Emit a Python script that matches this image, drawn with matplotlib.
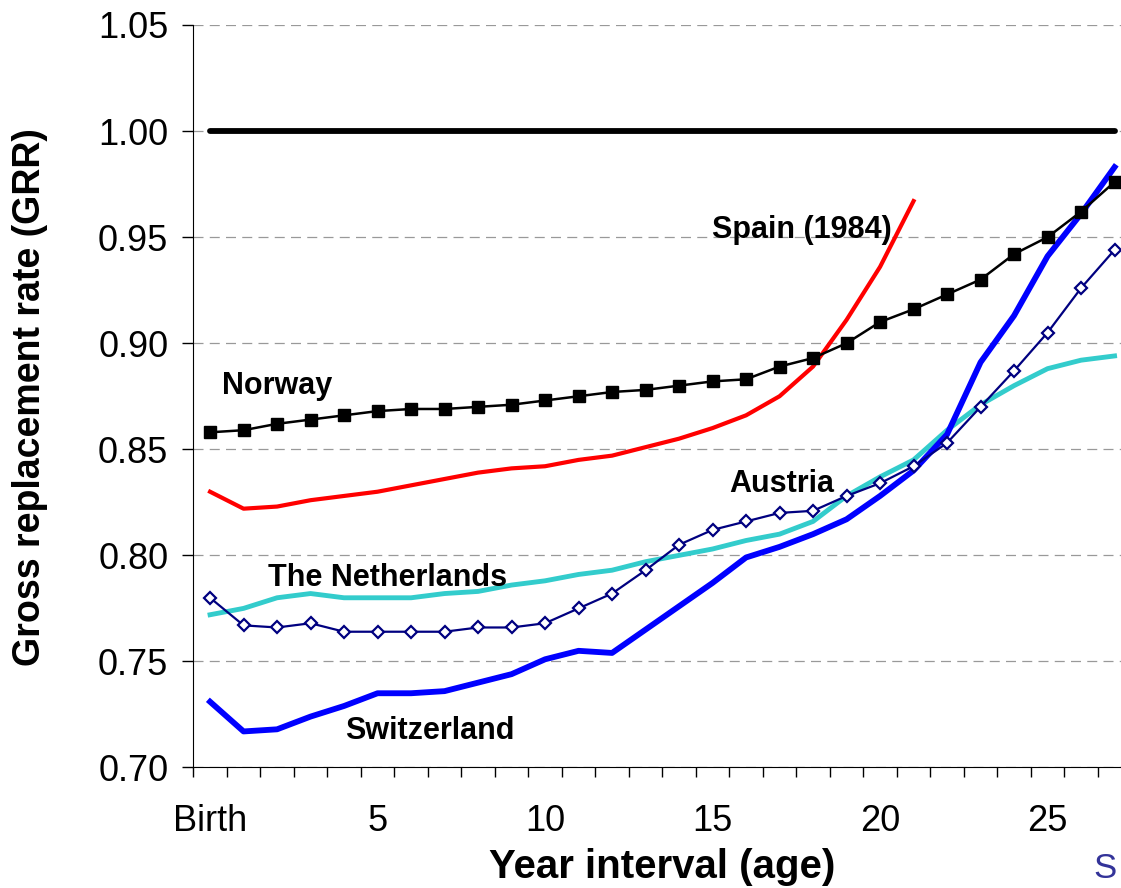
import matplotlib

matplotlib.use("Agg")
import matplotlib.pyplot as plt
from matplotlib.ticker import FixedLocator, NullFormatter

plt.rcParams["font.family"] = ["Liberation Sans", "DejaVu Sans"]

# categories: Birth, 1 .. 27 years
age_labels = ["Birth"] + [str(i) for i in range(1, 28)]
age_index = list(range(len(age_labels)))

norway = [0.858, 0.859, 0.862, 0.864, 0.866, 0.868, 0.869, 0.869, 0.870, 0.871,
          0.873, 0.875, 0.877, 0.878, 0.880, 0.882, 0.883, 0.889, 0.893, 0.900,
          0.910, 0.916, 0.923, 0.930, 0.942, 0.950, 0.962, 0.976]
spain_1984 = [0.830, 0.822, 0.823, 0.826, 0.828, 0.830, 0.833, 0.836, 0.839, 0.841,
              0.842, 0.845, 0.847, 0.851, 0.855, 0.860, 0.866, 0.875, 0.889, 0.911,
              0.936, 0.967]
austria = [0.780, 0.767, 0.766, 0.768, 0.764, 0.764, 0.764, 0.764, 0.766, 0.766,
           0.768, 0.775, 0.782, 0.793, 0.805, 0.812, 0.816, 0.820, 0.821, 0.828,
           0.834, 0.842, 0.853, 0.870, 0.887, 0.905, 0.926, 0.944]
netherlands = [0.772, 0.775, 0.780, 0.782, 0.780, 0.780, 0.780, 0.782, 0.783, 0.786,
               0.788, 0.791, 0.793, 0.797, 0.800, 0.803, 0.807, 0.810, 0.816, 0.828,
               0.837, 0.845, 0.859, 0.871, 0.880, 0.888, 0.892, 0.894]
switzerland = [0.731, 0.717, 0.718, 0.724, 0.729, 0.735, 0.735, 0.736, 0.740, 0.744,
               0.751, 0.755, 0.754, 0.765, 0.776, 0.787, 0.799, 0.804, 0.810, 0.817,
               0.828, 0.840, 0.857, 0.891, 0.913, 0.941, 0.961, 0.983]
parity = [1.0] * len(age_labels)

y_ticks = [0.70, 0.75, 0.80, 0.85, 0.90, 0.95, 1.00, 1.05]
label_ticks = [0, 5, 10, 15, 20, 25]

fig = plt.figure(figsize=(11.21, 8.88), dpi=100)
# right edge of the plot area runs past the picture, as in the cropped original
ax = fig.add_axes([0.17244, 0.13570, 0.83676, 0.83615])

ax.plot(age_index[:len(spain_1984)], spain_1984, color="#FF0000", linewidth=3.0, zorder=3)
ax.plot(age_index, netherlands, color="#33CCCC", linewidth=3.5, zorder=3)
ax.plot(age_index, switzerland, color="#0000FF", linewidth=4.2, zorder=4)
ax.plot(
    age_index, austria, color="#000080", linewidth=1.6, marker="D",
    markersize=6, markerfacecolor="white", markeredgecolor="#000080",
    markeredgewidth=1.6, zorder=5,
)
ax.plot(
    age_index, norway, color="black", linewidth=1.8, marker="s",
    markersize=8, zorder=6,
)
ax.plot(age_index, parity, color="black", linewidth=4.2,
        solid_capstyle="round", zorder=7)

ax.set_xlim(-0.5, len(age_labels) - 0.5)
ax.set_ylim(0.70, 1.05)

ax.set_yticks(y_ticks)
ax.set_yticklabels([f"{v:.2f}" for v in y_ticks])
ax.tick_params(axis="y", direction="out", length=8, width=1, pad=10, labelsize=26)

# boundary ticks between categories, labels centred on selected categories
ax.xaxis.set_major_locator(FixedLocator([i - 0.5 for i in range(len(age_labels) + 1)]))
ax.xaxis.set_major_formatter(NullFormatter())
ax.set_xticks(label_ticks, minor=True)
ax.set_xticklabels([age_labels[i] for i in label_ticks], minor=True)
ax.tick_params(axis="x", which="major", direction="out", length=7.5, width=1)
ax.tick_params(axis="x", which="minor", length=0, pad=26.5, labelsize=26)

ax.grid(axis="y", color="#999999", linestyle=(0, (8, 5)), linewidth=0.9)
ax.set_axisbelow(True)
ax.spines["top"].set_visible(False)
ax.spines["right"].set_visible(False)

fig.text(662 / 1121, 1 - 878 / 888, "Year interval (age)",
         ha="center", va="baseline", fontsize=29, fontweight="bold")
fig.text(30 / 1121, 1 - 397.5 / 888, "Gross replacement rate (GRR)",
         rotation=90, ha="center", va="center", fontsize=27, fontweight="bold")

label_style = dict(fontsize=22, fontweight="bold", ha="center", va="baseline")
ax.text(2.01, 0.876, "Norway", **label_style)
ax.text(17.66, 0.9496, "Spain (1984)", **label_style)
ax.text(17.07, 0.830, "Austria", **label_style)
ax.text(5.31, 0.7855, "The Netherlands", **label_style)
ax.text(6.57, 0.7134, "Switzerland", **label_style)

fig.text(1093 / 1121, 1 - 878 / 888, "S", color="#333399", fontsize=25,
         ha="left", va="baseline")

fig.savefig("out.png", dpi=100)
